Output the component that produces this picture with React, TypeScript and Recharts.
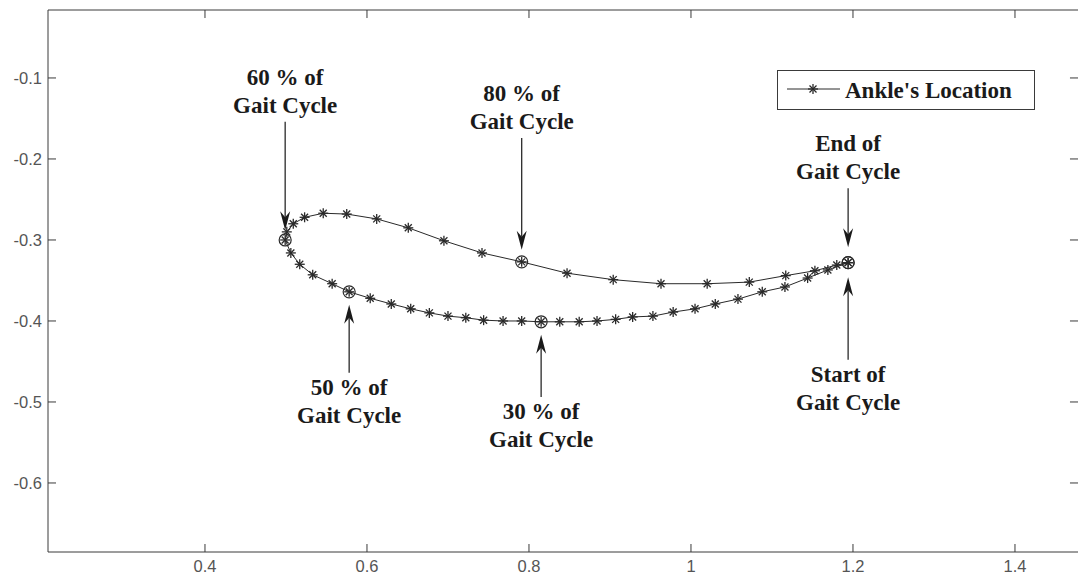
import { ScatterChart, Scatter, XAxis, YAxis, ReferenceLine, ReferenceArea } from "recharts";

// ankle trajectory, one point per sample, from start of gait cycle (index 0) round the loop
const ankleX = [
  1.194, 1.169, 1.144, 1.116, 1.088, 1.058, 1.03, 1.005, 0.978, 0.953, 0.928, 0.907, 0.884, 0.862, 0.838,
  0.815, 0.791, 0.768, 0.744, 0.722, 0.7, 0.677, 0.654, 0.63, 0.604, 0.578, 0.557, 0.533, 0.517, 0.506,
  0.499, 0.501, 0.509, 0.523, 0.546, 0.575, 0.612, 0.651, 0.695, 0.742, 0.791, 0.847, 0.904, 0.963, 1.02,
  1.072, 1.117, 1.153, 1.18, 1.194,
];
const ankleY = [
  -0.328, -0.337, -0.347, -0.358, -0.364, -0.373, -0.379, -0.385, -0.389, -0.394, -0.395, -0.398, -0.4, -0.401,
  -0.401, -0.401, -0.4, -0.4, -0.399, -0.396, -0.394, -0.39, -0.385, -0.379, -0.372, -0.364, -0.354, -0.343,
  -0.33, -0.316, -0.3, -0.29, -0.28, -0.272, -0.267, -0.268, -0.274, -0.285, -0.301, -0.316, -0.327, -0.341,
  -0.349, -0.354, -0.354, -0.352, -0.344, -0.338, -0.331, -0.328,
];
// samples marked with a circle (0 %, 30 %, 50 %, 60 %, 80 %, 100 %)
const markedIdx = [0, 15, 25, 30, 40, 49];

// annotations: which sample, arrow tail / tip (y value), text
const noteIdx = [0, 49, 30, 40, 25, 15];
const noteTail = [-0.448, -0.236, -0.154, -0.174, -0.464, -0.494];
const noteTip = [-0.346, -0.309, -0.288, -0.312, -0.38, -0.417];
const noteText = [
  ["Start of", "Gait Cycle"],
  ["End of", "Gait Cycle"],
  ["60 % of", "Gait Cycle"],
  ["80 % of", "Gait Cycle"],
  ["50 % of", "Gait Cycle"],
  ["30 % of", "Gait Cycle"],
];

const xTicks = [0.4, 0.6, 0.8, 1, 1.2, 1.4];
const yTicks = [-0.6, -0.5, -0.4, -0.3, -0.2, -0.1];
const xDomain = [0.2062, 1.4778];
const yDomain = [-0.6852, -0.0161];
const TICK_LEN = 0.0099; // ~8px of either axis

const data = ankleX.map((x, i) => ({ x, y: ankleY[i], marked: markedIdx.includes(i) }));

const INK = "#2a2a2a";
const AXIS = "#3a3a3a";
const SERIF = "'Liberation Serif', 'Times New Roman', serif";
const SANS = "'Liberation Sans', Arial, sans-serif";

const Star = ({ cx, cy, r = 5 }: { cx: number; cy: number; r?: number }) => {
  const d = r * 0.7;
  return (
    <g stroke={INK} strokeWidth={1.3}>
      <line x1={cx - r} y1={cy} x2={cx + r} y2={cy} />
      <line x1={cx} y1={cy - r} x2={cx} y2={cy + r} />
      <line x1={cx - d} y1={cy - d} x2={cx + d} y2={cy + d} />
      <line x1={cx - d} y1={cy + d} x2={cx + d} y2={cy - d} />
    </g>
  );
};

const PointShape = (props: any) => {
  const { cx, cy, payload } = props;
  if (cx == null || cy == null) return <g />;
  return (
    <g>
      <Star cx={cx} cy={cy} />
      {payload.marked && <circle cx={cx} cy={cy} r={6} fill="none" stroke={INK} strokeWidth={1.2} />}
    </g>
  );
};

const makeArrow = (lines: string[]) => (p: any) => {
  const { x1, y1, x2, y2 } = p;
  const dir = y2 > y1 ? 1 : -1; // pointing down when tip is below tail
  const head = 17;
  const half = 5;
  const baseY = y2 - dir * head;
  const textAbove = dir === 1;
  const textProps = {
    x: x1,
    textAnchor: "middle" as const,
    fontFamily: SERIF,
    fontWeight: 700,
    fontSize: 23,
    fill: "#1a1a1a",
  };
  return (
    <g>
      <line x1={x1} y1={y1} x2={x2} y2={baseY + dir * 4} stroke={INK} strokeWidth={1.3} />
      <polygon
        points={`${x2},${y2} ${x2 - half},${baseY - dir * 2} ${x2},${baseY + dir * 4} ${x2 + half},${baseY - dir * 2}`}
        fill="#1a1a1a"
      />
      {textAbove ? (
        <>
          <text {...textProps} y={y1 - 37}>{lines[0]}</text>
          <text {...textProps} y={y1 - 9}>{lines[1]}</text>
        </>
      ) : (
        <>
          <text {...textProps} y={y1 + 22}>{lines[0]}</text>
          <text {...textProps} y={y1 + 50}>{lines[1]}</text>
        </>
      )}
    </g>
  );
};

export default function App() {
  const tickStyle = { fill: "#555", fontSize: 16.5, fontFamily: SANS };
  return (
    <div style={{ position: "absolute", left: 0, top: 0, width: 1079, height: 576, background: "#fff" }}>
      <ScatterChart width={1079} height={576} margin={{ top: 10, right: 1, bottom: 0, left: 0 }}>
        <XAxis
          type="number"
          dataKey="x"
          domain={xDomain}
          allowDataOverflow
          ticks={xTicks}
          height={24}
          tickSize={-8}
          tickMargin={16}
          stroke={AXIS}
          tick={tickStyle}
        />
        <YAxis
          type="number"
          dataKey="y"
          domain={yDomain}
          allowDataOverflow
          ticks={yTicks}
          width={48}
          tickSize={-8}
          tickMargin={14}
          stroke={AXIS}
          tick={tickStyle}
        />
        {/* box: top border plus inward ticks on top and right */}
        <ReferenceLine
          segment={[
            { x: xDomain[0], y: yDomain[1] },
            { x: xDomain[1], y: yDomain[1] },
          ]}
          stroke={AXIS}
          strokeWidth={1}
          ifOverflow="visible"
        />
        {xTicks.map((t) => (
          <ReferenceLine
            key={`tx${t}`}
            segment={[
              { x: t, y: yDomain[1] },
              { x: t, y: yDomain[1] - TICK_LEN },
            ]}
            stroke={AXIS}
            ifOverflow="visible"
          />
        ))}
        {yTicks.map((t) => (
          <ReferenceLine
            key={`ty${t}`}
            segment={[
              { x: xDomain[1], y: t },
              { x: xDomain[1] - TICK_LEN, y: t },
            ]}
            stroke={AXIS}
            ifOverflow="visible"
          />
        ))}
        <Scatter
          data={data}
          line={{ stroke: INK, strokeWidth: 1 }}
          lineType="joint"
          shape={PointShape}
          isAnimationActive={false}
        />
        {noteIdx.map((idx, i) => (
          <ReferenceLine
            key={i}
            segment={[
              { x: ankleX[idx], y: noteTail[i] },
              { x: ankleX[idx], y: noteTip[i] },
            ]}
            ifOverflow="visible"
            shape={makeArrow(noteText[i])}
          />
        ))}
      </ScatterChart>
      <svg width={258} height={40} style={{ position: "absolute", left: 777, top: 70 }}>
        <rect x={0.5} y={0.5} width={257} height={39} fill="#fff" stroke={AXIS} strokeWidth={1} />
        <line x1={10} y1={19} x2={63} y2={19} stroke={INK} strokeWidth={1} />
        <Star cx={36} cy={19} />
        <text x={68} y={28} fontFamily={SERIF} fontWeight={700} fontSize={23} fill="#1a1a1a">
          Ankle's Location
        </text>
      </svg>
    </div>
  );
}
